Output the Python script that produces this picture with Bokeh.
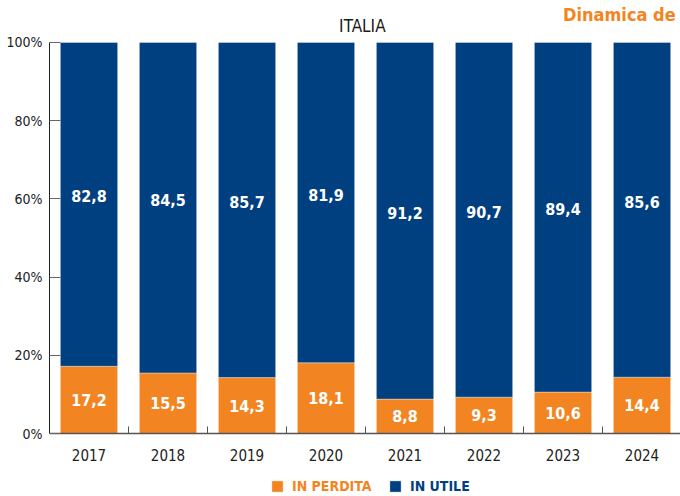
from bokeh.plotting import figure
from bokeh.models import (ColumnDataSource, Range1d, FixedTicker, Label, Legend, LegendItem)
from bokeh.core.properties import value
from bokeh.embed import file_html
from bokeh.resources import INLINE

# ---- data ----
years = [2017, 2018, 2019, 2020, 2021, 2022, 2023, 2024]
in_perdita = [17.2, 15.5, 14.3, 18.1, 8.8, 9.3, 10.6, 14.4]
in_utile = [82.8, 84.5, 85.7, 81.9, 91.2, 90.7, 89.4, 85.6]
y_ticks = [0, 20, 40, 60, 80, 100]
y_tick_labels = ["0%", "20%", "40%", "60%", "80%", "100%"]
series_names = ["IN PERDITA", "IN UTILE"]
title_text = "ITALIA"
corner_text = "Dinamica de"

ORANGE = "#F28522"
BLUE = "#004080"
FONT = "DejaVu Sans Condensed"

def fmt(v):
    return f"{v:.1f}".replace(".", ",")

src = ColumnDataSource(dict(
    x=years,
    p_top=in_perdita,
    u_top=[a + b for a, b in zip(in_perdita, in_utile)],
    p_mid=[a / 2 for a in in_perdita],
    u_mid=[a + b / 2 for a, b in zip(in_perdita, in_utile)],
    p_lab=[fmt(v) for v in in_perdita],
    u_lab=[fmt(v) for v in in_utile],
))

p = figure(width=680, height=496, output_backend="svg", toolbar_location=None,
           x_range=Range1d(2016.5, 2024.487), y_range=Range1d(-16.11, 110.74),
           min_border_left=49, min_border_right=0, min_border_top=0, min_border_bottom=0)
p.outline_line_color = None
p.xgrid.visible = False
p.ygrid.visible = False
p.background_fill_color = "white"
p.border_fill_color = "white"

r_p = p.vbar(x="x", bottom=0, top="p_top", width=0.725, source=src,
             fill_color=ORANGE, line_color="white", line_alpha=0.35, line_width=1)
r_u = p.vbar(x="x", bottom="p_top", top="u_top", width=0.725, source=src,
             fill_color=BLUE, line_color="white", line_alpha=0.35, line_width=1)

p.text(x="x", y="p_mid", text="p_lab", source=src, text_color="white",
       text_font=value(FONT), text_font_style="bold", text_font_size="16px",
       text_align="center", text_baseline="middle")
p.text(x="x", y="u_mid", text="u_lab", source=src, text_color="white",
       text_font=value(FONT), text_font_style="bold", text_font_size="16px",
       text_align="center", text_baseline="middle", y_offset=-8)

# y axis
ya = p.yaxis[0]
ya.ticker = FixedTicker(ticks=y_ticks)
ya.bounds = (0, 100)
ya.major_label_overrides = {t: l for t, l in zip(y_ticks, y_tick_labels)}
ya.major_tick_in = 11
ya.major_tick_out = 0
ya.major_tick_line_color = "#666666"
ya.minor_tick_line_color = None
ya.axis_line_color = "#222222"
ya.major_label_text_font = FONT
ya.major_label_text_font_size = "14px"
ya.major_label_text_color = "#222222"
ya.major_label_standoff = 7

# x axis (drawn at y = 0 inside the frame)
xa = p.xaxis[0]
xa.fixed_location = 0
xa.ticker = FixedTicker(ticks=years, minor_ticks=[y + 0.5 for y in years[:-1]])
xa.major_label_overrides = {y: str(y) for y in years}
xa.major_tick_line_color = None
xa.minor_tick_in = 7
xa.minor_tick_out = 0
xa.minor_tick_line_color = "#555555"
xa.axis_line_color = "#555555"
xa.axis_line_width = 1.5
xa.major_label_text_font = FONT
xa.major_label_text_font_size = "15px"
xa.major_label_text_color = "#222222"
xa.major_label_standoff = 9

# title and corner text
p.add_layout(Label(x=2020.46, y=104.1, text=title_text, text_align="center",
                   text_baseline="middle", text_font=FONT, text_font_size="17px",
                   text_color="#1a1a1a"))
p.add_layout(Label(x=2023.0, y=107.2, text=corner_text, text_align="left",
                   text_baseline="alphabetic", text_font=FONT, text_font_size="18px",
                   text_font_style="bold", text_color=ORANGE))

# legends
for r, name, col, xloc in [(r_p, series_names[0], ORANGE, 221), (r_u, series_names[1], BLUE, 339)]:
    leg = Legend(items=[LegendItem(label=name, renderers=[r])], location=(xloc, 2),
                 orientation="horizontal", padding=0, margin=0, spacing=0,
                 border_line_color=None, background_fill_alpha=0,
                 glyph_width=14, glyph_height=14, label_height=14, label_standoff=8,
                 label_text_color=col, label_text_font=FONT, label_text_font_size="14px",
                 label_text_font_style="bold")
    p.add_layout(leg, "center")

open("out.html", "w").write(file_html(p, INLINE))
